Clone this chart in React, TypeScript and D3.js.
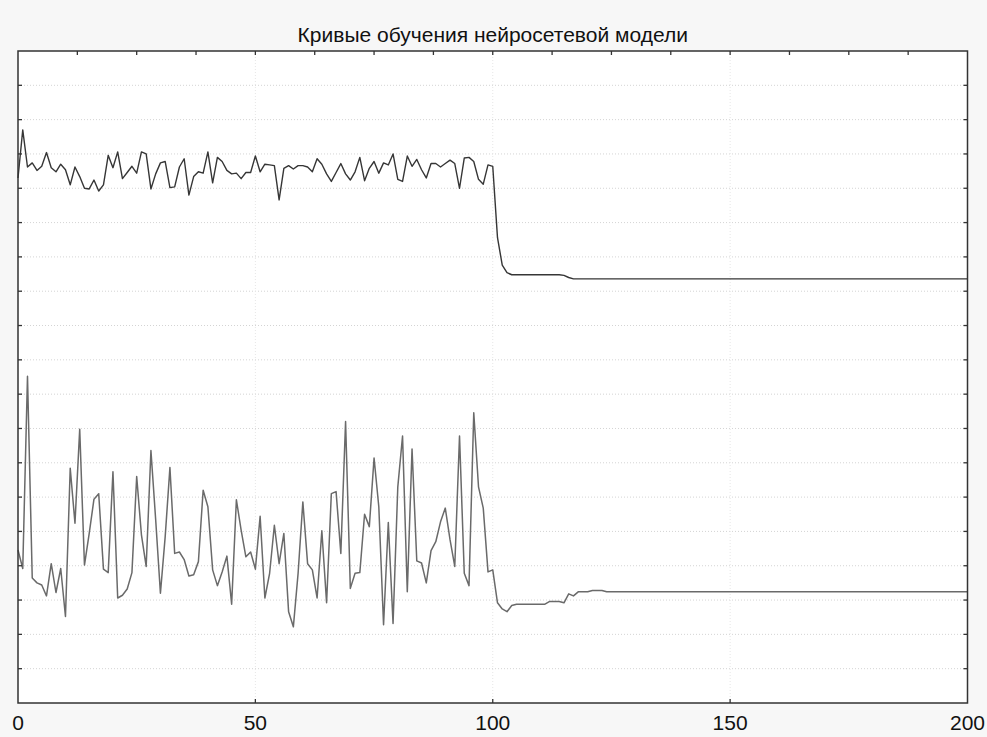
import React from "react";
import * as d3 from "d3";

const TITLE = "Кривые обучения нейросетевой модели";

// epochs 0..124 measured, then plateau to 200
const epochs: number[] = d3.range(0, 125).concat([200]);

const upperSeries: number[] = [
  0.765, 0.835, 0.781, 0.787, 0.776, 0.782, 0.802, 0.780, 0.774, 0.785,
  0.777, 0.755, 0.781, 0.767, 0.750, 0.749, 0.762, 0.746, 0.755, 0.798,
  0.780, 0.803, 0.764, 0.773, 0.782, 0.772, 0.803, 0.800, 0.749, 0.771,
  0.787, 0.789, 0.751, 0.752, 0.781, 0.793, 0.740, 0.767, 0.774, 0.772,
  0.803, 0.758, 0.795, 0.789, 0.776, 0.771, 0.772, 0.764, 0.773, 0.773,
  0.797, 0.774, 0.785, 0.784, 0.783, 0.733, 0.779, 0.783, 0.778, 0.783,
  0.783, 0.781, 0.774, 0.793, 0.785, 0.771, 0.760, 0.773, 0.786, 0.771,
  0.762, 0.774, 0.795, 0.761, 0.779, 0.789, 0.772, 0.787, 0.784, 0.800,
  0.763, 0.760, 0.797, 0.782, 0.792, 0.777, 0.765, 0.786, 0.786, 0.781,
  0.786, 0.791, 0.786, 0.750, 0.794, 0.795, 0.789, 0.763, 0.756, 0.784,
  0.782, 0.678, 0.638, 0.627, 0.624, 0.624, 0.624, 0.624, 0.624, 0.624,
  0.624, 0.624, 0.624, 0.624, 0.624, 0.623, 0.620, 0.618, 0.618, 0.618,
  0.618, 0.618, 0.618, 0.618, 0.618, 0.618,
];

const lowerSeries: number[] = [
  0.223, 0.196, 0.476, 0.182, 0.175, 0.172, 0.156, 0.203, 0.161, 0.196,
  0.126, 0.342, 0.262, 0.399, 0.201, 0.247, 0.297, 0.305, 0.195, 0.190,
  0.337, 0.153, 0.157, 0.166, 0.190, 0.330, 0.245, 0.199, 0.368, 0.267,
  0.160, 0.242, 0.343, 0.218, 0.220, 0.209, 0.185, 0.187, 0.206, 0.310,
  0.286, 0.194, 0.171, 0.191, 0.214, 0.144, 0.296, 0.252, 0.213, 0.220,
  0.195, 0.272, 0.153, 0.189, 0.259, 0.203, 0.247, 0.133, 0.111, 0.189,
  0.293, 0.203, 0.194, 0.153, 0.251, 0.146, 0.305, 0.308, 0.218, 0.410,
  0.167, 0.189, 0.190, 0.275, 0.257, 0.357, 0.286, 0.114, 0.263, 0.116,
  0.315, 0.389, 0.162, 0.370, 0.207, 0.204, 0.175, 0.222, 0.235, 0.264,
  0.284, 0.238, 0.199, 0.389, 0.189, 0.171, 0.423, 0.315, 0.284, 0.191,
  0.194, 0.146, 0.137, 0.133, 0.142, 0.144, 0.144, 0.144, 0.144, 0.144,
  0.144, 0.144, 0.148, 0.148, 0.148, 0.146, 0.159, 0.156, 0.162, 0.162,
  0.162, 0.164, 0.164, 0.164, 0.162, 0.162,
];

const xTickLabels: number[] = [0, 50, 100, 150, 200];
const xMinorTicks: number[] = d3.range(12.5, 200, 12.5);
const yTicks: number[] = d3.range(0.05, 0.95, 0.05);

const W = 987;
const H = 737;
const L = 18;
const R = 967.5;
const T = 51;
const B = 703;

export default function App() {
  const x = d3.scaleLinear().domain([0, 200]).range([L, R]);
  const y = d3.scaleLinear().domain([0, 0.95]).range([B, T]);
  const line = d3
    .line<number>()
    .x((_, i) => x(epochs[i]))
    .y((d) => y(d));

  const font = "'Liberation Sans', Arial, Helvetica, sans-serif";
  const tick = 4;

  return (
    <svg
      width={W}
      height={H}
      style={{ position: "absolute", left: 0, top: 0 }}
      xmlns="http://www.w3.org/2000/svg"
    >
      <rect x={0} y={0} width={W} height={H} fill="#f7f7f7" />
      <rect x={L} y={T} width={R - L} height={B - T} fill="#ffffff" />
      {/* grid */}
      {yTicks.map((t, i) => (
        <line
          key={"gy" + i}
          x1={L}
          x2={R}
          y1={y(t)}
          y2={y(t)}
          stroke="#d4d4d4"
          strokeWidth={1}
          strokeDasharray="1,2"
        />
      ))}
      {xTickLabels.slice(1, -1).map((t, i) => (
        <line
          key={"gx" + i}
          x1={x(t)}
          x2={x(t)}
          y1={T}
          y2={B}
          stroke="#e6e6e6"
          strokeWidth={1}
          strokeDasharray="1,2"
        />
      ))}
      {/* series */}
      <path d={line(lowerSeries) || ""} fill="none" stroke="#6a6a6a" strokeWidth={1.5} strokeLinejoin="round" />
      <path d={line(upperSeries) || ""} fill="none" stroke="#363636" strokeWidth={1.4} strokeLinejoin="round" />
      {/* frame */}
      <rect x={L} y={T} width={R - L} height={B - T} fill="none" stroke="#333" strokeWidth={1.5} />
      {/* ticks */}
      {yTicks.map((t, i) => (
        <g key={"ty" + i}>
          <line x1={L} x2={L + tick} y1={y(t)} y2={y(t)} stroke="#333" strokeWidth={1.3} />
          <line x1={R} x2={R - tick} y1={y(t)} y2={y(t)} stroke="#333" strokeWidth={1.3} />
        </g>
      ))}
      {xMinorTicks.map((t, i) => (
        <line key={"tt" + i} x1={x(t)} x2={x(t)} y1={T} y2={T + tick} stroke="#333" strokeWidth={1.3} />
      ))}
      {xTickLabels.slice(1, -1).map((t, i) => (
        <line key={"tb" + i} x1={x(t)} x2={x(t)} y1={B} y2={B - tick} stroke="#333" strokeWidth={1.3} />
      ))}
      {xTickLabels.map((t, i) => (
        <text
          key={"lx" + i}
          x={x(t)}
          y={730}
          textAnchor="middle"
          fontFamily={font}
          fontSize={21}
          fill="#111"
        >
          {t}
        </text>
      ))}
      <text
        x={(L + R) / 2}
        y={42}
        textAnchor="middle"
        fontFamily={font}
        fontSize={21}
        fill="#111"
      >
        {TITLE}
      </text>
    </svg>
  );
}
